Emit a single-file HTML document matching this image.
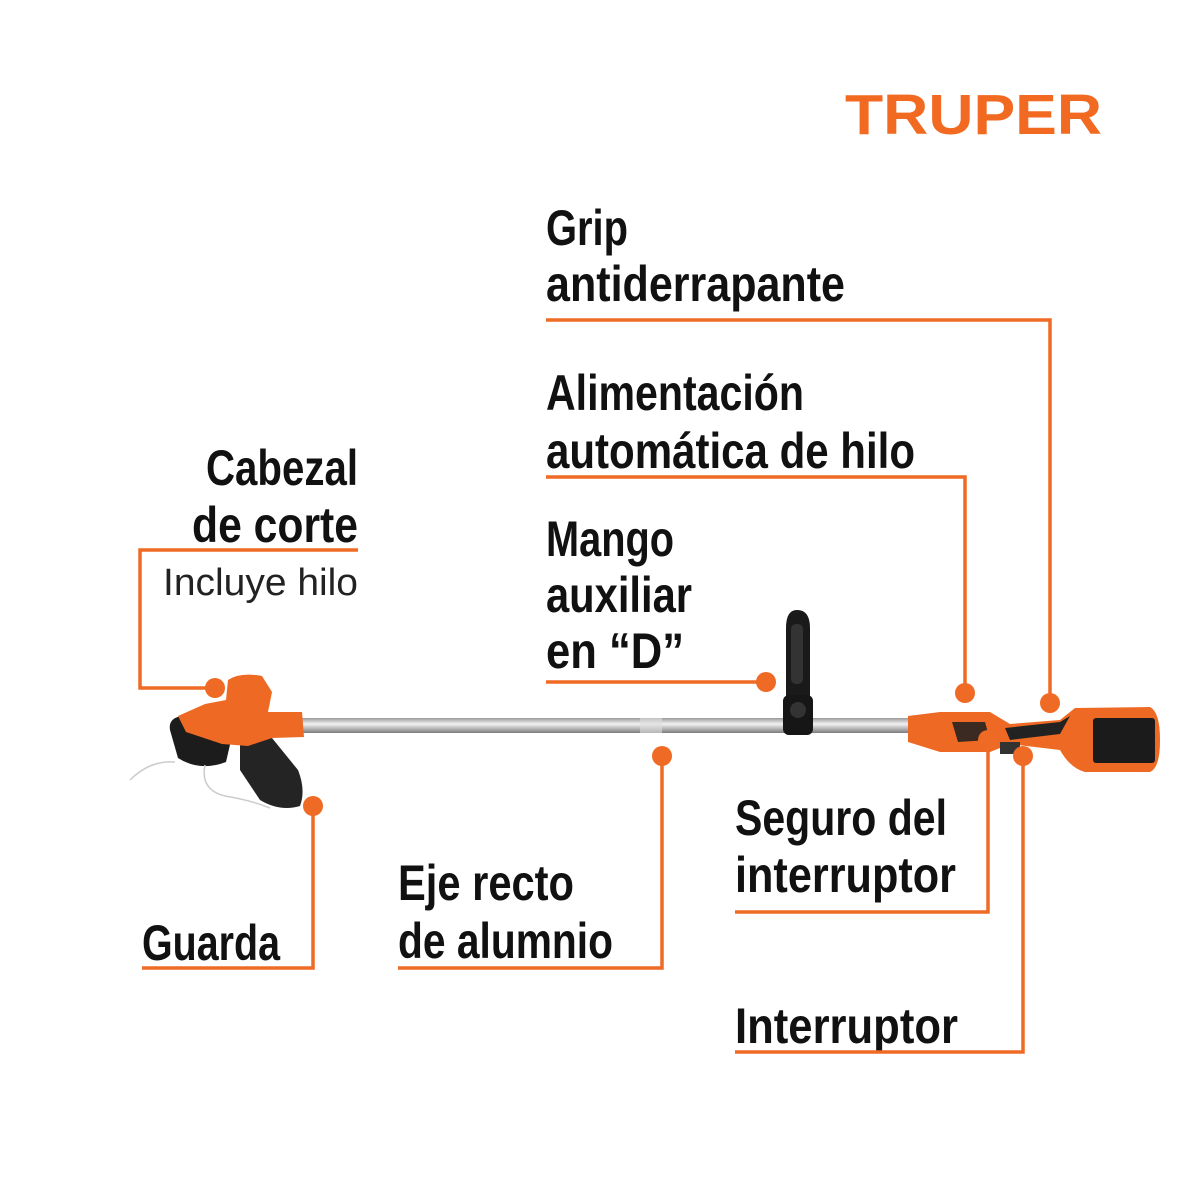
<!DOCTYPE html>
<html><head><meta charset="utf-8"><style>
html,body{margin:0;padding:0;background:#fff;}
svg{display:block}
.t{font-family:"Liberation Sans",sans-serif;font-weight:bold;font-size:50px;fill:#111;}
.n{font-family:"Liberation Sans",sans-serif;font-size:38px;fill:#222;}
.l{stroke:#ef6a25;stroke-width:3.5;fill:none}
.d{fill:#ef6a25}
</style></head><body>
<svg width="1200" height="1200" viewBox="0 0 1200 1200" xmlns="http://www.w3.org/2000/svg">
<defs>
<linearGradient id="sh" x1="0" y1="0" x2="0" y2="1"><stop offset="0" stop-color="#9a9a9a"/><stop offset="0.4" stop-color="#f2f2f2"/><stop offset="1" stop-color="#7d7d7d"/></linearGradient>
</defs>
<text x="845" y="134" font-family="Liberation Sans,sans-serif" font-weight="bold" font-size="57" fill="#f26a21" textLength="257" lengthAdjust="spacingAndGlyphs">TRUPER</text>

<text class="t" x="546" y="245" textLength="82" lengthAdjust="spacingAndGlyphs">Grip</text>
<text class="t" x="546" y="301" textLength="299" lengthAdjust="spacingAndGlyphs">antiderrapante</text>
<text class="t" x="546" y="410" textLength="258" lengthAdjust="spacingAndGlyphs">Alimentación</text>
<text class="t" x="546" y="468" textLength="369" lengthAdjust="spacingAndGlyphs">automática de hilo</text>
<text class="t" x="546" y="556" textLength="128" lengthAdjust="spacingAndGlyphs">Mango</text>
<text class="t" x="546" y="612" textLength="146" lengthAdjust="spacingAndGlyphs">auxiliar</text>
<text class="t" x="546" y="668" textLength="138" lengthAdjust="spacingAndGlyphs">en “D”</text>
<text class="t" x="206" y="485" textLength="152" lengthAdjust="spacingAndGlyphs">Cabezal</text>
<text class="t" x="192" y="542" textLength="166" lengthAdjust="spacingAndGlyphs">de corte</text>
<text class="n" x="163" y="595" textLength="195" lengthAdjust="spacingAndGlyphs">Incluye hilo</text>
<text class="t" x="142" y="960" textLength="138" lengthAdjust="spacingAndGlyphs">Guarda</text>
<text class="t" x="398" y="900" textLength="176" lengthAdjust="spacingAndGlyphs">Eje recto</text>
<text class="t" x="398" y="958" textLength="215" lengthAdjust="spacingAndGlyphs">de alumnio</text>
<text class="t" x="735" y="835" textLength="212" lengthAdjust="spacingAndGlyphs">Seguro del</text>
<text class="t" x="735" y="892" textLength="221" lengthAdjust="spacingAndGlyphs">interruptor</text>
<text class="t" x="735" y="1043" textLength="223" lengthAdjust="spacingAndGlyphs">Interruptor</text>

<polyline class="l" points="546,320 1050,320 1050,703"/>
<polyline class="l" points="546,477 965,477 965,693"/>
<polyline class="l" points="546,682 766,682"/>
<polyline class="l" points="358,550 140,550 140,688 215,688"/>
<polyline class="l" points="142,968 313,968 313,806"/>
<polyline class="l" points="398,968 662,968 662,756"/>
<polyline class="l" points="735,912 988,912 988,740"/>
<polyline class="l" points="735,1052 1023,1052 1023,756"/>

<rect x="295" y="718" width="620" height="15" fill="url(#sh)"/>
<rect x="640" y="718" width="22" height="15" fill="#ddd" opacity="0.6"/>

<path d="M786,700 L786,628 Q786,610 797,610 Q810,610 810,628 L810,700 Z" fill="#1a1a1a"/>
<rect x="791" y="624" width="12" height="60" rx="5" fill="#333"/>
<rect x="783" y="695" width="30" height="40" rx="6" fill="#161616"/>
<circle cx="798" cy="710" r="8" fill="#333"/>

<!-- head -->
<path d="M170,730 Q168,718 182,716 L232,736 L226,762 Q200,772 178,758 Z" fill="#1c1c1c"/>
<path d="M240,740 L272,738 L298,770 Q306,790 300,806 Q280,812 260,800 L240,770 Z" fill="#242424"/>
<path d="M228,680 Q240,672 262,676 L272,692 L268,712 L290,712 L302,712 L304,737 L272,738 L248,746 L222,744 L186,732 L178,716 L205,704 L226,700 Z" fill="#ee6a24"/>
<path d="M130,780 Q150,760 175,762" stroke="#ccc" stroke-width="1.5" fill="none"/>
<path d="M205,765 Q200,790 225,796 Q250,800 270,808" stroke="#ccc" stroke-width="1.5" fill="none"/>

<!-- rear handle -->
<path d="M908,716 L940,712 L990,712 L1010,724 L1060,720 L1075,708 L1150,707 Q1160,712 1160,740 Q1160,768 1150,772 L1085,772 Q1070,768 1060,750 L1010,744 L990,752 L940,752 L908,742 Z" fill="#ee6a24"/>
<path d="M952,722 L985,722 L990,740 L958,742 Z" fill="#3a2a22"/>
<path d="M1005,728 L1060,722 L1070,716 L1060,734 L1010,740 Z" fill="#222"/>
<rect x="1093" y="718" width="62" height="45" rx="3" fill="#1b1b1b"/>
<rect x="1000" y="742" width="20" height="12" fill="#333"/>

<circle class="d" cx="1050" cy="703" r="10"/>
<circle class="d" cx="965" cy="693" r="10"/>
<circle class="d" cx="766" cy="682" r="10"/>
<circle class="d" cx="215" cy="688" r="10"/>
<circle class="d" cx="313" cy="806" r="10"/>
<circle class="d" cx="662" cy="756" r="10"/>
<circle class="d" cx="988" cy="740" r="10"/>
<circle class="d" cx="1023" cy="756" r="10"/>
</svg>
</body></html>
